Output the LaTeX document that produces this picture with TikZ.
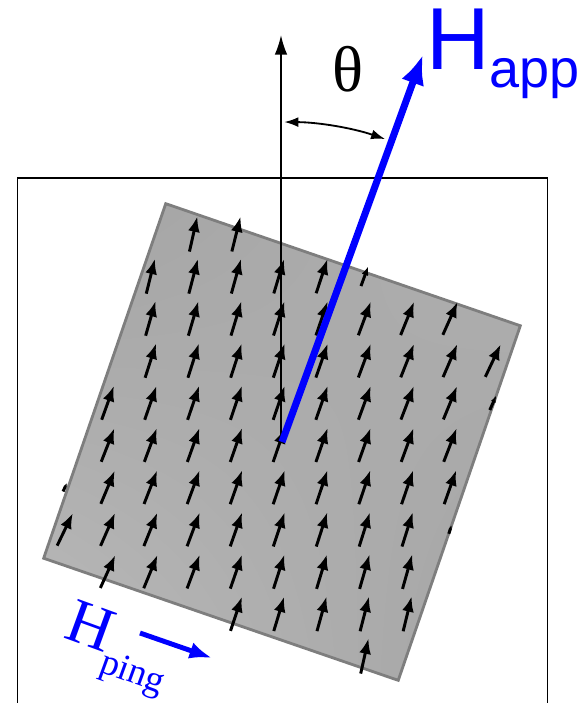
\documentclass[tikz,border=0pt]{standalone}
\usepackage{fontspec}
\usepackage{xcolor}
\usepackage{tikz}
\usetikzlibrary{arrows.meta, positioning, calc, shadings}
\newfontfamily\labelsans{Liberation Sans}
\newfontfamily\labelserif{Liberation Serif}
\definecolor{fieldblue}{RGB}{0, 0, 255}
\definecolor{samplegray}{RGB}{164, 164, 164}
\definecolor{samplelight}{RGB}{186, 186, 186}
\definecolor{sampleedge}{RGB}{126, 126, 126}

\begin{document}
\begin{tikzpicture}[
    x=0.025cm, y=0.025cm,
    % Styles
    frame/.style={draw=black, line width=0.9pt},
    sample/.style={draw=sampleedge, line width=2pt, upper left=samplegray, upper right=samplegray!88!white, lower left=samplelight, lower right=samplegray},
    spin/.style={-{Latex[length=11pt, width=8.5pt, scale=#1]}, line width=2.1pt, black},
    spin/.default=1,
    axis/.style={-{Latex[length=14pt, width=9pt]}, line width=1.4pt, black},
    field/.style={-{Latex[length=21pt, width=17pt]}, line width=5pt, fieldblue},
    pingfield/.style={-{Latex[length=16pt, width=12pt]}, line width=3.5pt, fieldblue},
    anglearc/.style={{Latex[length=10pt, width=7pt]}-{Latex[length=10pt, width=7pt]}, line width=1.3pt, black}
]
    \clip (-282,-261) rectangle (299,442);

    % Sample
    \shade[sample, rotate=-19] (-187.5,-187.5) rectangle (187.5,187.5);

    % Magnetisation
    \foreach \i in {-6,...,6}{
        \foreach \j in {-6,...,6}{
            \pgfmathsetmacro\cx{42.8*\i-3}
            \pgfmathsetmacro\cy{42.2*\j-3}
            \pgfmathsetmacro\u{\cx*cos(19)-\cy*sin(19)}
            \pgfmathsetmacro\v{\cx*sin(19)+\cy*cos(19)}
            \pgfmathsetmacro\m{min(188.5-\u, \u+191.5, 186-\v, \v+189.5)}
            \pgfmathsetmacro\s{max(0.15, min(1, \m/4))}
            \pgfmathsetmacro\t{19+2.5*(\u/100)*(\v/100)}
            \ifdim\m pt>0.5pt
                \draw[spin=\s] ({\cx-18*\s*sin(\t)},{\cy-18*\s*cos(\t)}) -- ({\cx+18*\s*sin(\t)},{\cy+18*\s*cos(\t)});
            \fi
        }
    }

    % Frame
    \draw[frame] (-264.5,-300) rectangle (265.5,264);

    % Axes
    \coordinate (O) at (0,0);
    \coordinate (ztip) at (-1,407);
    \coordinate (apptip) at (70:412);
    \draw[axis] (O -| ztip) -- (ztip);
    \draw[field] (O) -- (apptip);
    \draw[anglearc] (89.6:320) arc[start angle=89.6, end angle=71.2, radius=8cm];

    % Labels
    \node (theta) [inner sep=0] at (66,373) {\labelserif\fontsize{46}{46}\selectfont θ};
    \node (happ) [anchor=base west, inner sep=0, text=fieldblue] at (144,372) {\labelsans\fontsize{62.6}{62.6}\selectfont H\raisebox{-12.8pt}{\fontsize{38.4}{38.4}\selectfont app}};
    \node (hping) [anchor=base west, inner sep=0, text=fieldblue, rotate=-20] at (-220,-195) {\labelserif\fontsize{44.8}{44.8}\selectfont H\raisebox{-14pt}{\fontsize{26.3}{26.3}\selectfont ping}};

    % Pinging field
    \coordinate (pingtail) at (-142,-191);
    \coordinate (pinghead) at (-70,-216);
    \draw[pingfield] (pingtail) -- (pinghead);
\end{tikzpicture}
\end{document}
